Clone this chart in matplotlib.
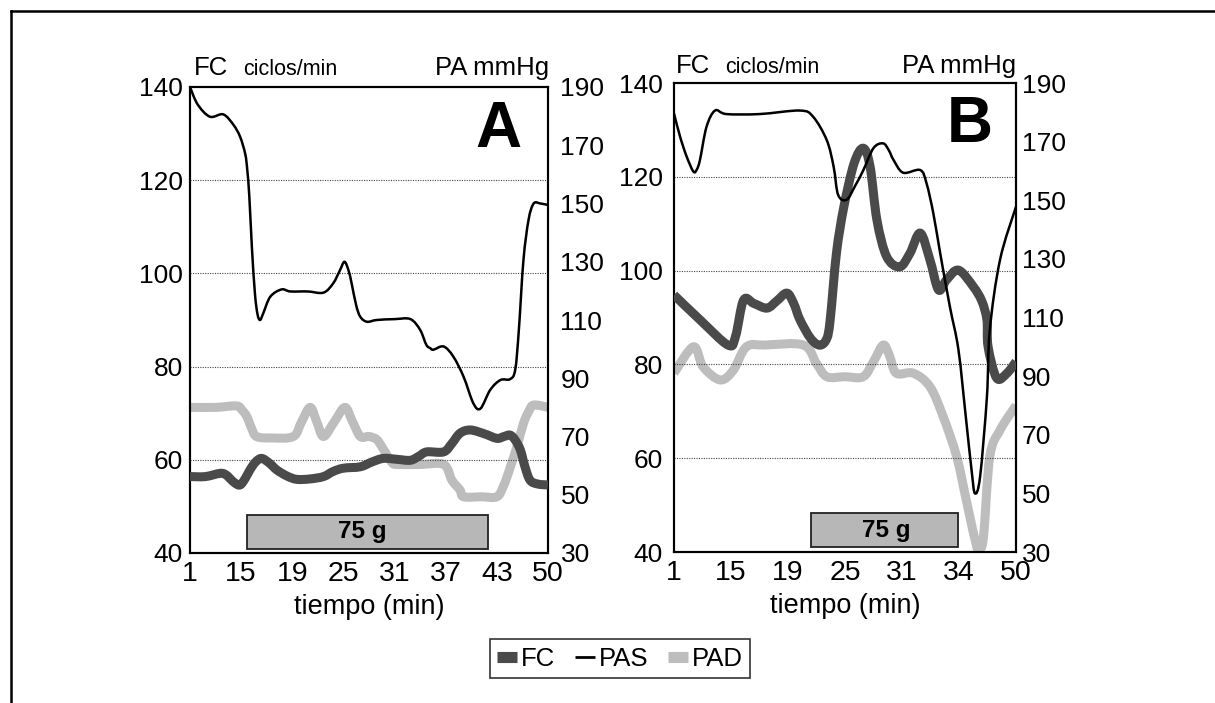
import matplotlib
matplotlib.use("Agg")
import matplotlib.pyplot as plt
from matplotlib.patches import Rectangle, PathPatch
from matplotlib.path import Path
from matplotlib.lines import Line2D

plt.rcParams['font.family'] = ['Liberation Sans', 'DejaVu Sans']

# ---------------- data ----------------
a_labels = ['1', '15', '19', '25', '31', '37', '43', '50']
b_labels = ['1', '15', '19', '25', '31', '34', '50']

a_pas_t = [0, 0.15, 0.39, 0.65, 0.85, 0.98, 1.08, 1.12, 1.16, 1.21, 1.27, 1.32, 1.37, 1.43,
           1.57, 1.79, 1.96, 2.3, 2.61, 2.80, 2.93, 3.02, 3.10, 3.16, 3.25, 3.33, 3.46, 3.65,
           4.0, 4.31, 4.50, 4.62, 4.70, 4.76, 4.96, 5.15, 5.35, 5.54, 5.68, 5.87, 6.07, 6.26,
           6.36, 6.43, 6.52, 6.62, 6.72, 6.85, 7.0]
a_pas_v = [190, 184, 179.8, 180.6, 177, 172.9, 167, 161.5, 152.4, 135, 119, 112, 110, 112.2,
           118, 120.5, 119.8, 119.8, 119.4, 122.6, 127, 130, 127, 122.6, 115, 111.1, 109.4, 110,
           110.3, 110.3, 106.6, 101.5, 100.3, 99.8, 100.9, 97.4, 90.5, 81.4, 79.6, 86, 89.4, 89.7,
           93, 106.6, 130.6, 144.4, 150, 150, 149.5]

a_pad_t = [0, 0.5, 0.91, 1.02, 1.11, 1.20, 1.30, 1.6, 2.02, 2.18, 2.35, 2.48, 2.61, 2.82,
           3.03, 3.18, 3.33, 3.5, 3.65, 3.75, 3.85, 3.95, 4.04, 4.5, 4.96, 5.12, 5.28, 5.35,
           5.7, 6.0, 6.13, 6.26, 6.40, 6.52, 6.62, 6.72, 7.0]
a_pad_v = [80, 80, 80.5, 79, 76.9, 73, 70, 69.5, 70, 75, 80, 75, 70, 75,
           80, 75, 70, 70, 69, 66.5, 63.7, 61, 60.4, 60.4, 60.4, 55, 51.6, 49.3,
           49.3, 49.3, 53, 59.3, 67, 74.5, 78.5, 80.8, 80]

a_fc_t = [0, 0.3, 0.59, 0.70, 0.78, 0.88, 0.98, 1.08, 1.17, 1.28, 1.40, 1.55, 1.70, 1.9,
          2.09, 2.35, 2.61, 2.8, 3.0, 3.33, 3.55, 3.78, 4.05, 4.31, 4.48, 4.63, 4.96, 5.12,
          5.28, 5.48, 5.75, 6.0, 6.14, 6.26, 6.36, 6.46, 6.55, 6.65, 6.8, 7.0]
a_fc_v = [56.4, 56.4, 57.1, 56.8, 56, 55, 54.6, 56, 57.8, 59.5, 60.3, 59.3, 57.8, 56.5,
          55.8, 55.9, 56.4, 57.5, 58.2, 58.5, 59.5, 60.3, 60.1, 59.9, 60.8, 61.7, 61.7, 63.5,
          65.7, 66.4, 65.6, 64.6, 65, 65.3, 64.2, 62.1, 58.5, 55.6, 54.8, 54.6]

b_pas_t = [0, 0.105, 0.22, 0.34, 0.40, 0.456, 0.57, 0.72, 0.92, 1.5, 2.21, 2.44, 2.68, 2.80,
           2.88, 3.03, 3.18, 3.32, 3.50, 3.67, 3.77, 3.85, 4.02, 4.32, 4.43, 4.55, 4.67, 4.84,
           4.99, 5.12, 5.22, 5.28, 5.37, 5.49, 5.54, 5.72, 6.0]
b_pas_v = [179.6, 171.8, 165, 159.8, 160.5, 163.8, 175, 180.6, 179.4, 179.4, 180.6, 178.5, 170.5, 161.5,
           151.8, 150.2, 155, 160.2, 167.8, 169.4, 167, 163.8, 159.4, 160.3, 155.8, 145.5, 131.9, 113.7,
           99, 76, 58, 50, 55.7, 83, 105.7, 129.7, 147.8]

b_fc_t = [0, 0.456, 0.95, 1.08, 1.22, 1.40, 1.63, 1.80, 1.98, 2.10, 2.21, 2.40, 2.56, 2.68,
          2.74, 2.85, 2.98, 3.16, 3.32, 3.44, 3.56, 3.73, 3.96, 4.14, 4.32, 4.49, 4.64, 4.78,
          4.99, 5.25, 5.40, 5.49, 5.51, 5.66, 5.84, 6.0]
b_fc_v = [94.8, 89.5, 84.1, 86, 93.7, 93, 92, 93.5, 95.2, 93, 89.5, 85.5, 84.1, 85.5,
          89.5, 103.7, 113.6, 122.9, 126.1, 122.2, 110.8, 103, 100.8, 103.7, 108, 102.3, 95.9, 98,
          100.1, 96.6, 93.5, 89.5, 83.8, 77.1, 78.1, 80.6]

b_pad_t = [0, 0.34, 0.51, 0.81, 1.04, 1.27, 1.6, 2.27, 2.50, 2.68, 3.0, 3.32, 3.50, 3.67,
           3.78, 3.90, 4.20, 4.49, 4.72, 4.96, 5.14, 5.31, 5.36, 5.43, 5.54, 5.72, 6.0]
b_pad_v = [91, 100, 93.2, 88.7, 92, 100, 100.6, 100.6, 94.3, 89.8, 89.8, 89.8, 95, 100.6,
           97, 91, 91, 86.4, 76.3, 62.5, 46.6, 31.8, 31, 35.2, 62.5, 71.6, 80]

fc_ticks = [40, 60, 80, 100, 120, 140]
pa_ticks = [30, 50, 70, 90, 110, 130, 150, 170, 190]

# ---------------- style ----------------
FC_COLOR = '#4a4a4a'
PAD_COLOR = '#bdbdbd'
PAS_COLOR = '#000000'

W, H = 1215, 703
fig = plt.figure(figsize=(W / 100, H / 100), dpi=100)


def fpos(l, r, t, b):
    return [l / W, 1 - b / H, (r - l) / W, (b - t) / H]


def smooth_path(xs, ys):
    """Smoothed (Excel-like) curve through the data points, as Bezier segments."""
    pts = list(zip(xs, ys))
    n = len(pts)
    verts = [pts[0]]
    codes = [Path.MOVETO]
    for i in range(n - 1):
        p0 = pts[i - 1] if i > 0 else pts[i]
        p1 = pts[i]
        p2 = pts[i + 1]
        p3 = pts[i + 2] if i + 2 < n else pts[i + 1]
        c1 = (p1[0] + (p2[0] - p0[0]) / 6, p1[1] + (p2[1] - p0[1]) / 6)
        c2 = (p2[0] - (p3[0] - p1[0]) / 6, p2[1] - (p3[1] - p1[1]) / 6)
        verts += [c1, c2, p2]
        codes += [Path.CURVE4] * 3
    return Path(verts, codes)


def draw_line(ax, xs, ys, color, lw, transform, z):
    patch = PathPatch(smooth_path(xs, ys), facecolor='none', edgecolor=color, lw=lw,
                      transform=transform, joinstyle='round', capstyle='butt', zorder=z)
    ax.add_patch(patch)


def panel(rect, labels, fc_t, fc_v, pas_t, pas_v, pad_t, pad_v, letter,
          box, box_text_x, lpad, rpad, header):
    axL = fig.add_axes(rect)
    axR = axL.twinx()
    n = len(labels) - 1
    axL.set_xlim(0, n)
    axL.set_ylim(40, 140)
    axR.set_ylim(30, 190)
    axL.set_zorder(axR.get_zorder() + 1)
    axL.patch.set_visible(False)

    draw_line(axR, pad_t, pad_v, PAD_COLOR, 6.5, axR.transData, 2)
    draw_line(axL, fc_t, fc_v, FC_COLOR, 6.5, axL.transData, 3)
    draw_line(axL, pas_t, pas_v, PAS_COLOR, 1.8, axR.transData, 4)
    axL.set_xlim(0, n)
    axL.set_ylim(40, 140)
    axR.set_ylim(30, 190)

    for g in [60, 80, 100, 120]:
        axL.axhline(g, color='#444444', lw=0.8, ls=(0, (1, 1.2)), zorder=1)

    axL.set_xticks(range(n + 1))
    axL.set_xticklabels(labels, fontsize=20.5)
    axL.set_yticks(fc_ticks)
    axL.set_yticklabels([str(v) for v in fc_ticks], fontsize=19)
    axR.set_yticks(pa_ticks)
    axR.set_yticklabels([str(v) for v in pa_ticks], fontsize=19)
    axL.tick_params(axis='x', length=0, pad=6)
    axL.tick_params(axis='y', length=0, pad=lpad)
    axR.tick_params(axis='y', length=0, pad=rpad)
    for ax in (axL, axR):
        for s in ax.spines.values():
            s.set_linewidth(1.5)
            s.set_color('black')
    axL.set_xlabel('tiempo (min)', fontsize=19.5, labelpad=5)

    bx0, bx1, by0, by1 = box
    axL.add_patch(Rectangle((bx0, by0), bx1 - bx0, by1 - by0, facecolor='#b7b7b7',
                            edgecolor='#222222', lw=1.3, zorder=5))
    axL.text(box_text_x, (by0 + by1) / 2, '75 g', fontsize=17.5, fontweight='bold',
             ha='center', va='center', zorder=6)

    axL.text(letter[1], letter[2], letter[0], transform=axL.transAxes, fontsize=46,
             fontweight='bold', ha='center', va='baseline', zorder=6)

    fc_x, cic_x, pa_r, base_y = header
    fig.text(fc_x / W, 1 - base_y / H, 'FC', fontsize=18.5, va='baseline', ha='left')
    fig.text(cic_x / W, 1 - base_y / H, 'ciclos/min', fontsize=15.5, va='baseline', ha='left')
    fig.text(pa_r / W, 1 - base_y / H, 'PA mmHg', fontsize=18.5, va='baseline', ha='right')
    return axL, axR


panel(fpos(190, 548, 87, 553), a_labels, a_fc_t, a_fc_v, a_pas_t, a_pas_v, a_pad_t, a_pad_v,
      ('A', 0.862, 0.871), (1.11, 5.83, 40.9, 48.2), 3.36, 5, 9, (194, 243, 549, 75))
panel(fpos(674, 1016, 83, 552), b_labels, b_fc_t, b_fc_v, b_pas_t, b_pas_v, b_pad_t, b_pad_v,
      ('B', 0.865, 0.875), (2.40, 4.99, 41.1, 48.25), 3.73, 8, 4, (676, 725, 1016, 73))

# legend
handles = [Line2D([], [], color=FC_COLOR, lw=8, solid_capstyle='butt'),
           Line2D([], [], color=PAS_COLOR, lw=2, solid_capstyle='butt'),
           Line2D([], [], color=PAD_COLOR, lw=8, solid_capstyle='butt')]
leg = fig.legend(handles, ['FC', 'PAS', 'PAD'], loc='center',
                 bbox_to_anchor=(620 / W, 1 - 658.5 / H), ncol=3, fontsize=18.5,
                 frameon=True, fancybox=False, edgecolor='black', handlelength=0.75,
                 handletextpad=0.15, columnspacing=0.8, borderpad=0.3,
                 borderaxespad=0)
leg.get_frame().set_linewidth(1.2)

# outer frame lines (top and left)
fig.add_artist(Line2D([11 / W, 1.0], [1 - 11 / H, 1 - 11 / H], color='black', lw=1.8))
fig.add_artist(Line2D([11 / W, 11 / W], [1 - 11 / H, 0], color='black', lw=1.8))

fig.savefig('out.png', dpi=100, facecolor='white')
